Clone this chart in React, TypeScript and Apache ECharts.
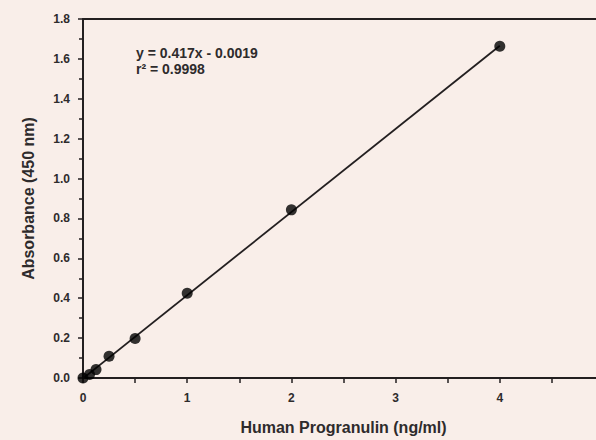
import React, { useEffect, useRef } from "react";
import * as echarts from "echarts";

const concentrations = [0, 0.0625, 0.125, 0.25, 0.5, 1, 2, 4];
const absorbances = [0.0, 0.018, 0.042, 0.109, 0.198, 0.425, 0.843, 1.663];
const fitX = [0, 4];
const fitY = [-0.0019, 1.6661];
const equationLines = ["y = 0.417x - 0.0019", "r² = 0.9998"];
const xTitle = "Human Progranulin (ng/ml)";
const yTitle = "Absorbance (450 nm)";

const FONT = "'Liberation Sans', Arial, Helvetica, sans-serif";
const INK = "#231f20";
const TEXT = "#2e2b2c";

export default function App() {
  const ref = useRef<HTMLDivElement>(null);
  useEffect(() => {
    document.body.style.margin = "0";
    document.body.style.overflow = "hidden";
    document.documentElement.style.overflow = "hidden";
    if (!ref.current) return;
    const chart = echarts.init(ref.current, null, { renderer: "svg" });
    chart.setOption({
      animation: false,
      backgroundColor: "#f9eee9",
      textStyle: { fontFamily: FONT },
      grid: { left: 83, right: 16, top: 19, bottom: 58, containLabel: false },
      xAxis: [
        {
          type: "value",
          min: 0,
          max: 5,
          interval: 1,
          name: xTitle,
          nameLocation: "middle",
          nameGap: 41,
          nameTextStyle: { fontFamily: FONT, fontWeight: "bold", fontSize: 16, color: TEXT },
          axisLine: { show: true, onZero: false, lineStyle: { color: INK, width: 2 } },
          axisTick: { show: true, length: 5, lineStyle: { color: INK, width: 1.5 } },
          minorTick: { show: true, splitNumber: 2, length: 5, lineStyle: { color: INK, width: 1.5 } },
          axisLabel: {
            fontFamily: FONT,
            fontWeight: "bold",
            fontSize: 12,
            color: TEXT,
            margin: 14,
            showMaxLabel: false,
          },
          splitLine: { show: false },
        },
        {
          type: "value",
          position: "top",
          min: 0,
          max: 5,
          axisLine: { show: true, onZero: false, lineStyle: { color: INK, width: 2 } },
          axisTick: { show: false },
          axisLabel: { show: false },
          splitLine: { show: false },
        },
      ],
      yAxis: {
        type: "value",
        min: 0,
        max: 1.8,
        interval: 0.2,
        name: yTitle,
        nameLocation: "middle",
        nameGap: 47,
        nameTextStyle: { fontFamily: FONT, fontWeight: "bold", fontSize: 16, color: TEXT },
        axisLine: { show: true, onZero: false, lineStyle: { color: INK, width: 2 } },
        axisTick: { show: true, length: 5, lineStyle: { color: INK, width: 1.5 } },
        minorTick: { show: true, splitNumber: 2, length: 4, lineStyle: { color: INK, width: 1.5 } },
        axisLabel: {
          fontFamily: FONT,
          fontWeight: "bold",
          fontSize: 12,
          color: TEXT,
          margin: 13,
          formatter: (v: number) => v.toFixed(1),
        },
        splitLine: { show: false },
      },
      graphic: [
        {
          type: "text",
          left: 136,
          top: 45,
          style: {
            text: equationLines.join("\n"),
            fontFamily: FONT,
            fontWeight: "bold",
            fontSize: 14,
            lineHeight: 16,
            fill: TEXT,
          },
        },
      ],
      series: [
        {
          type: "line",
          data: fitX.map((x, i) => [x, fitY[i]]),
          showSymbol: false,
          symbol: "none",
          lineStyle: { color: INK, width: 1.8 },
          silent: true,
          z: 2,
        },
        {
          type: "scatter",
          data: concentrations.map((x, i) => [x, absorbances[i]]),
          symbol: "circle",
          symbolSize: 11,
          itemStyle: { color: "#000" },
          z: 3,
        },
      ],
    });
    return () => chart.dispose();
  }, []);
  return <div ref={ref} style={{ width: 620, height: 440 }} />;
}
